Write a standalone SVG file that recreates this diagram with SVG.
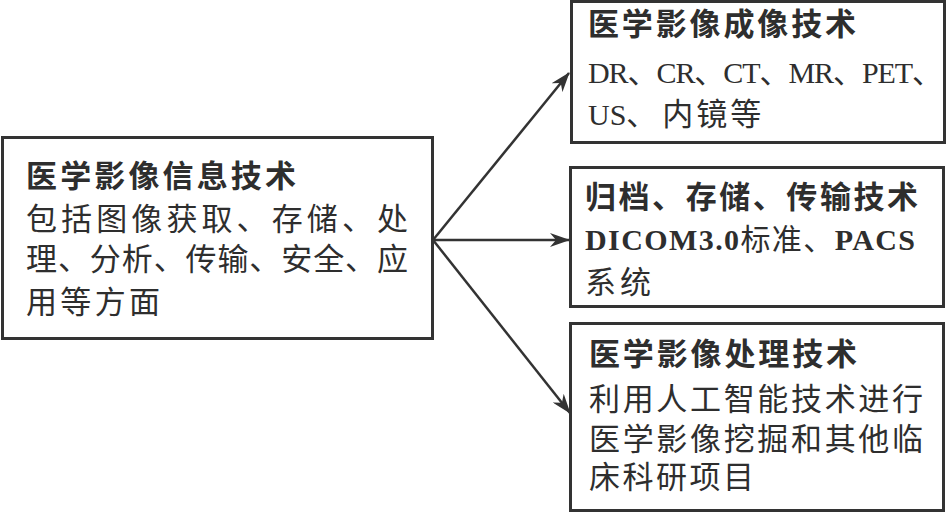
<svg xmlns="http://www.w3.org/2000/svg" width="947" height="513" viewBox="0 0 947 513">
  <style>
    .box { fill: #ffffff; stroke: #333333; stroke-width: 3; }
    .t { font-family: "Noto Sans CJK SC", "Noto Sans", sans-serif; font-weight: bold; font-size: 31px; fill: #2e2e2e; }
    .b { font-family: "Liberation Serif", "Noto Sans CJK SC", serif; font-size: 31px; fill: #2e2e2e; }
    .lat { font-family: "Liberation Serif", "Noto Sans CJK SC", serif; font-size: 30px; fill: #2e2e2e; }
    .cjk { font-size: 31px; }
    .conn { stroke: #333333; stroke-width: 2.5; fill: none; marker-end: url(#arrow); }
  </style>
  <defs>
    <marker id="arrow" markerUnits="userSpaceOnUse" markerWidth="20" markerHeight="14" viewBox="0 0 20 14" refX="19" refY="7" orient="auto">
      <path d="M0,0 L20,7 L0,14 L6,7 Z" fill="#333333"/>
    </marker>
  </defs>
  <rect width="947" height="513" fill="#ffffff"/>

  <g id="connectors">
    <line class="conn" x1="433" y1="240" x2="569" y2="73"/>
    <line class="conn" x1="433" y1="240" x2="569" y2="240"/>
    <line class="conn" x1="433" y1="240" x2="570" y2="413"/>
  </g>

  <g id="node-main">
    <rect class="box" x="2.5" y="137.5" width="430" height="201"/>
    <text class="t" x="26" y="187" textLength="270" lengthAdjust="spacing">医学影像信息技术</text>
    <text class="b" x="26" y="230" textLength="382" lengthAdjust="spacing">包括图像获取、存储、处</text>
    <text class="b" x="26" y="270" textLength="382" lengthAdjust="spacing">理、分析、传输、安全、应</text>
    <text class="b" x="26" y="313" textLength="134" lengthAdjust="spacing">用等方面</text>
  </g>

  <g id="node-imaging">
    <rect class="box" x="571.5" y="1.5" width="373" height="141"/>
    <text class="t" x="588" y="35" textLength="268" lengthAdjust="spacing">医学影像成像技术</text>
    <text class="lat" x="588" y="83" font-size="29" textLength="354" lengthAdjust="spacing">DR、CR、CT、MR、PET、</text>
    <text class="lat" x="588" y="125" font-size="29">US、<tspan dx="6" class="cjk" letter-spacing="3">内镜等</tspan></text>
  </g>

  <g id="node-archive">
    <rect class="box" x="570.5" y="167.5" width="373" height="139"/>
    <text class="t" x="585" y="208" textLength="333" lengthAdjust="spacing">归档、存储、传输技术</text>
    <text class="lat" x="585" y="250" textLength="330" lengthAdjust="spacing"><tspan font-weight="bold">DICOM3.0</tspan>标准、<tspan font-weight="bold">PACS</tspan></text>
    <text class="b" x="585" y="293" textLength="66" lengthAdjust="spacing">系统</text>
  </g>

  <g id="node-processing">
    <rect class="box" x="570.5" y="323.5" width="373" height="187"/>
    <text class="t" x="589" y="365" textLength="268" lengthAdjust="spacing">医学影像处理技术</text>
    <text class="b" x="589" y="410" textLength="334" lengthAdjust="spacing">利用人工智能技术进行</text>
    <text class="b" x="589" y="450" textLength="334" lengthAdjust="spacing">医学影像挖掘和其他临</text>
    <text class="b" x="589" y="488" textLength="165" lengthAdjust="spacing">床科研项目</text>
  </g>
</svg>
